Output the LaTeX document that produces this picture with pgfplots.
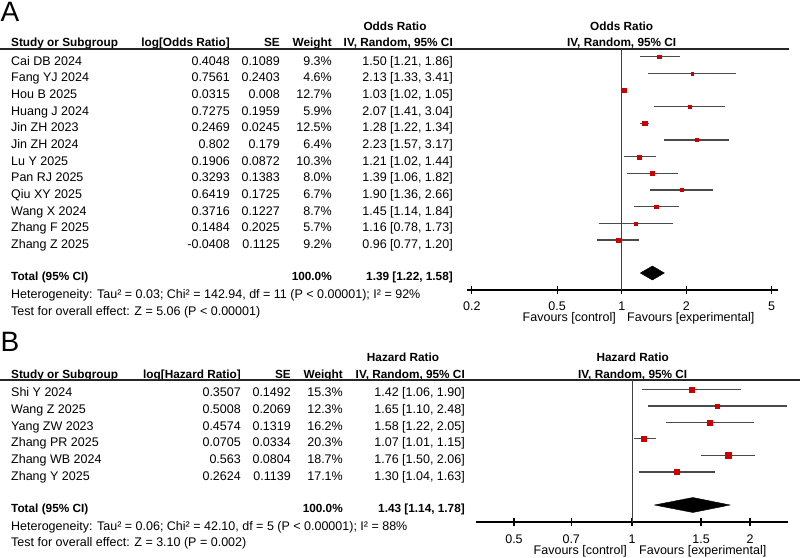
\documentclass[border=0pt]{standalone}
\usepackage{pgfplots}
\pgfplotsset{compat=1.18}
\usepackage{fontspec}
\setmainfont{Liberation Sans}
\definecolor{mred}{HTML}{CC0000}
\definecolor{cigray}{HTML}{4A4A4A}
\newcommand{\bfs}{\fontsize{11.8}{14}\selectfont\bfseries}
\begin{document}
\begin{tikzpicture}[x=1pt,y=-1pt,
  every node/.style={inner sep=0pt, font=\fontsize{12.5}{15}\selectfont},
  L/.style={anchor=base west}, R/.style={anchor=base east}, C/.style={anchor=base}]
\path[use as bounding box] (0,0) rectangle (800,557);

% ================= Panel A =================
\node[L, font=\fontsize{28}{30}\selectfont] at (0.5,21.7) {A};
\node[C, font=\bfs] at (395,30) {Odds Ratio};
\node[C, font=\bfs] at (621.7,30) {Odds Ratio};
\begin{scope}[every node/.append style={font=\bfs}]
\node[L] at (11,46.7) {Study or Subgroup};
\node[R] at (230,46.7) {log[Odds Ratio]};
\node[R] at (280,46.7) {SE};
\node[R] at (332,46.7) {Weight};
\node[R] at (453,46.7) {IV, Random, 95\% CI};
\node[C] at (621.7,46.7) {IV, Random, 95\% CI};
\end{scope}
\draw[line width=1.2pt, black!85] (0,49) -- (789,49);

\foreach \n/\a/\b/\c/\d [count=\i from 0] in {
 Cai DB 2024/0.4048/0.1089/9.3\%/{1.50 [1.21, 1.86]},
 Fang YJ 2024/0.7561/0.2403/4.6\%/{2.13 [1.33, 3.41]},
 Hou B 2025/0.0315/0.008/12.7\%/{1.03 [1.02, 1.05]},
 Huang J 2024/0.7275/0.1959/5.9\%/{2.07 [1.41, 3.04]},
 Jin ZH 2023/0.2469/0.0245/12.5\%/{1.28 [1.22, 1.34]},
 Jin ZH 2024/0.802/0.179/6.4\%/{2.23 [1.57, 3.17]},
 Lu Y 2025/0.1906/0.0872/10.3\%/{1.21 [1.02, 1.44]},
 Pan RJ 2025/0.3293/0.1383/8.0\%/{1.39 [1.06, 1.82]},
 Qiu XY 2025/0.6419/0.1725/6.7\%/{1.90 [1.36, 2.66]},
 Wang X 2024/0.3716/0.1227/8.7\%/{1.45 [1.14, 1.84]},
 Zhang F 2025/0.1484/0.2025/5.7\%/{1.16 [0.78, 1.73]},
 Zhang Z 2025/-0.0408/0.1125/9.2\%/{0.96 [0.77, 1.20]}} {
  \pgfmathsetmacro{\yy}{65+16.67*\i}
  \node[L] at (11,\yy) {\n};
  \node[R] at (230,\yy) {\a};
  \node[R] at (280,\yy) {\b};
  \node[R] at (332,\yy) {\c};
  \node[R] at (453,\yy) {\d};
}
\begin{scope}[every node/.append style={font=\bfs}]
\node[L] at (11,280) {Total (95\% CI)};
\node[R] at (332,280) {100.0\%};
\node[R] at (453,280) {1.39 [1.22, 1.58]};
\end{scope}
\node[L] at (11,298) {Heterogeneity: Tau² = 0.03; Chi² = 142.94, df = 11 (P < 0.00001); I² = 92\%};
\node[L] at (11,315) {Test for overall effect: Z = 5.06 (P < 0.00001)};
\node[R] at (616,321.7) {Favours [control]};
\node[L] at (627,321.7) {Favours [experimental]};

\begin{axis}[
  at={(467pt,-290pt)}, anchor=south west, scale only axis,
  width=311pt, height=241pt,
  xmode=log, xmin=0.19, xmax=5.35, ymin=-290, ymax=-49,
  axis x line*=bottom, axis y line=none,
  xtick={0.2,0.5,1,2,5}, xticklabels={0.2,0.5,1,2,5}, minor xtick={},
  xtick align=center, major tick length=8pt,
  x axis line style={black, line width=1.2pt},
  tick style={black, line width=1.2pt},
  xticklabel style={anchor=base, yshift=-16.7pt, font=\fontsize{12.5}{15}\selectfont},
  clip=false]
\addplot[black!75, line width=1pt] coordinates {(1,-49) (1,-290)};
% CI lines
\addplot[cigray, line width=1.2pt] coordinates {(1.21,-56.7) (1.86,-56.7)};
\addplot[cigray, line width=1.2pt] coordinates {(1.33,-73.4) (3.41,-73.4)};
\addplot[cigray, line width=1.2pt] coordinates {(1.02,-90.0) (1.05,-90.0)};
\addplot[cigray, line width=1.2pt] coordinates {(1.41,-106.7) (3.04,-106.7)};
\addplot[cigray, line width=1.2pt] coordinates {(1.22,-123.4) (1.34,-123.4)};
\addplot[cigray, line width=1.2pt] coordinates {(1.57,-140.0) (3.17,-140.0)};
\addplot[cigray, line width=1.2pt] coordinates {(1.02,-156.7) (1.44,-156.7)};
\addplot[cigray, line width=1.2pt] coordinates {(1.06,-173.4) (1.82,-173.4)};
\addplot[cigray, line width=1.2pt] coordinates {(1.36,-190.0) (2.66,-190.0)};
\addplot[cigray, line width=1.2pt] coordinates {(1.14,-206.7) (1.84,-206.7)};
\addplot[cigray, line width=1.2pt] coordinates {(0.78,-223.4) (1.73,-223.4)};
\addplot[cigray, line width=1.2pt] coordinates {(0.77,-240.0) (1.20,-240.0)};
% point estimates
\addplot[only marks, mark=square*, mark size=1.9pt, color=mred] coordinates {(1.50,-56.7)};
\addplot[only marks, mark=square*, mark size=1.35pt, color=mred] coordinates {(2.13,-73.4)};
\addplot[only marks, mark=square*, mark size=2.2pt, color=mred] coordinates {(1.03,-90.0)};
\addplot[only marks, mark=square*, mark size=1.5pt, color=mred] coordinates {(2.07,-106.7)};
\addplot[only marks, mark=square*, mark size=2.2pt, color=mred] coordinates {(1.28,-123.4)};
\addplot[only marks, mark=square*, mark size=1.55pt, color=mred] coordinates {(2.23,-140.0)};
\addplot[only marks, mark=square*, mark size=2.0pt, color=mred] coordinates {(1.21,-156.7)};
\addplot[only marks, mark=square*, mark size=1.75pt, color=mred] coordinates {(1.39,-173.4)};
\addplot[only marks, mark=square*, mark size=1.6pt, color=mred] coordinates {(1.90,-190.0)};
\addplot[only marks, mark=square*, mark size=1.8pt, color=mred] coordinates {(1.45,-206.7)};
\addplot[only marks, mark=square*, mark size=1.5pt, color=mred] coordinates {(1.16,-223.4)};
\addplot[only marks, mark=square*, mark size=1.9pt, color=mred] coordinates {(0.96,-240.0)};
% pooled diamond
\addplot[fill=black, draw=black] coordinates {(1.22,-273) (1.39,-266) (1.58,-273) (1.39,-280) (1.22,-273)};
\end{axis}

% ================= Panel B =================
\node[L, font=\fontsize{28}{30}\selectfont] at (0.5,351.7) {B};
\node[C, font=\bfs] at (403,361.7) {Hazard Ratio};
\node[C, font=\bfs] at (632.7,361.7) {Hazard Ratio};
\begin{scope}[every node/.append style={font=\bfs}]
\node[L] at (11,378) {Study or Subgroup};
\node[R] at (241,378) {log[Hazard Ratio]};
\node[R] at (291,378) {SE};
\node[R] at (343,378) {Weight};
\node[R] at (465,378) {IV, Random, 95\% CI};
\node[C] at (632.7,378) {IV, Random, 95\% CI};
\end{scope}
\draw[line width=1.2pt, black!85] (0,380) -- (800,380);

\foreach \n/\a/\b/\c/\d [count=\i from 0] in {
 Shi Y 2024/0.3507/0.1492/15.3\%/{1.42 [1.06, 1.90]},
 Wang Z 2025/0.5008/0.2069/12.3\%/{1.65 [1.10, 2.48]},
 Yang ZW 2023/0.4574/0.1319/16.2\%/{1.58 [1.22, 2.05]},
 Zhang PR 2025/0.0705/0.0334/20.3\%/{1.07 [1.01, 1.15]},
 Zhang WB 2024/0.563/0.0804/18.7\%/{1.76 [1.50, 2.06]},
 Zhang Y 2025/0.2624/0.1139/17.1\%/{1.30 [1.04, 1.63]}} {
  \pgfmathsetmacro{\yy}{396.7+16.67*\i}
  \node[L] at (11,\yy) {\n};
  \node[R] at (241,\yy) {\a};
  \node[R] at (291,\yy) {\b};
  \node[R] at (343,\yy) {\c};
  \node[R] at (465,\yy) {\d};
}
\begin{scope}[every node/.append style={font=\bfs}]
\node[L] at (11,512.3) {Total (95\% CI)};
\node[R] at (343,512.3) {100.0\%};
\node[R] at (465,512.3) {1.43 [1.14, 1.78]};
\end{scope}
\node[L] at (11,530.7) {Heterogeneity: Tau² = 0.06; Chi² = 42.10, df = 5 (P < 0.00001); I² = 88\%};
\node[L] at (11,546.7) {Test for overall effect: Z = 3.10 (P = 0.002)};
\node[R] at (627,554) {Favours [control]};
\node[L] at (639,554) {Favours [experimental]};

\begin{axis}[
  at={(476pt,-522pt)}, anchor=south west, scale only axis,
  width=312pt, height=142pt,
  xmode=log, xmin=0.4, xmax=2.5, ymin=-522, ymax=-380,
  axis x line*=bottom, axis y line=none,
  xtick={0.5,0.7,1,1.5,2}, xticklabels={0.5,0.7,1,1.5,2}, minor xtick={},
  xtick align=center, major tick length=8pt,
  x axis line style={black, line width=1.2pt},
  tick style={black, line width=1.2pt},
  xticklabel style={anchor=base, yshift=-17pt, font=\fontsize{12.5}{15}\selectfont},
  clip=false]
\addplot[black!75, line width=1pt] coordinates {(1,-380) (1,-522)};
\addplot[cigray, line width=1.2pt] coordinates {(1.06,-389.3) (1.90,-389.3)};
\addplot[cigray, line width=1.2pt] coordinates {(1.10,-406.0) (2.48,-406.0)};
\addplot[cigray, line width=1.2pt] coordinates {(1.22,-422.3) (2.05,-422.3)};
\addplot[cigray, line width=1.2pt] coordinates {(1.01,-438.8) (1.15,-438.8)};
\addplot[cigray, line width=1.2pt] coordinates {(1.50,-455.3) (2.06,-455.3)};
\addplot[cigray, line width=1.2pt] coordinates {(1.04,-472.0) (1.63,-472.0)};
\addplot[only marks, mark=square*, mark size=2.4pt, color=mred] coordinates {(1.42,-389.3)};
\addplot[only marks, mark=square*, mark size=2.15pt, color=mred] coordinates {(1.65,-406.0)};
\addplot[only marks, mark=square*, mark size=2.5pt, color=mred] coordinates {(1.58,-422.3)};
\addplot[only marks, mark=square*, mark size=2.8pt, color=mred] coordinates {(1.07,-438.8)};
\addplot[only marks, mark=square*, mark size=2.7pt, color=mred] coordinates {(1.76,-455.3)};
\addplot[only marks, mark=square*, mark size=2.55pt, color=mred] coordinates {(1.30,-472.0)};
\addplot[fill=black, draw=black] coordinates {(1.14,-505) (1.43,-497.5) (1.78,-505) (1.43,-512.5) (1.14,-505)};
\end{axis}
\end{tikzpicture}
\end{document}
